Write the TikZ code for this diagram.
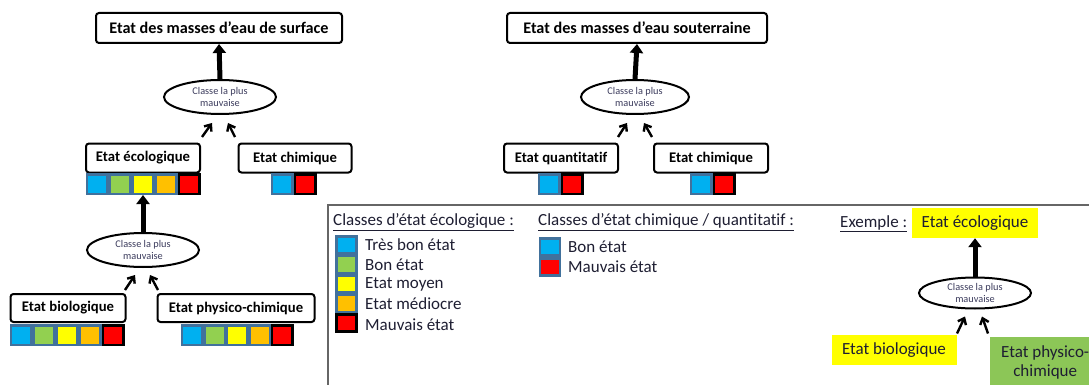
\documentclass[tikz,border=0pt]{standalone}
\usepackage{fontspec}
\setmainfont{Carlito}[Ligatures=NoCommon]
\usetikzlibrary{arrows.meta,shapes.geometric}
\definecolor{cb}{HTML}{00B0F0}\definecolor{cg}{HTML}{92D050}\definecolor{cy}{HTML}{FFFF00}
\definecolor{co}{HTML}{FFC000}\definecolor{cr}{HTML}{FF0000}\definecolor{sb}{HTML}{41719C}
\definecolor{elc}{HTML}{3B3B5C}\definecolor{txc}{HTML}{1E1E32}\definecolor{exg}{HTML}{8CC657}
\tikzset{box/.style={draw,line width=2pt,rounded corners=3pt,fill=white,inner sep=0pt,font=\bfseries\fontsize{14.7}{17}\selectfont},
 top/.style={box,font=\bfseries\fontsize{16.2}{18}\selectfont},
 ell/.style={ellipse,draw,line width=2pt,minimum width=112pt,minimum height=34pt,inner sep=0pt,align=center,text=elc,font=\fontsize{10.3}{12}\selectfont},
 sq/.style={draw=sb,line width=2.5pt,minimum width=20.5pt,minimum height=19.5pt,inner sep=0pt},
 big/.style={-{Triangle[width=13pt,length=9pt]},line width=5pt},
 sml/.style={-{Straight Barb[width=9pt,length=5.5pt]},line width=2.4pt},
 leg/.style={anchor=west,inner sep=0pt,text=txc,font=\fontsize{17}{19}\selectfont},
 ex/.style={inner sep=0pt,align=center,text=txc,font=\fontsize{17}{19}\selectfont}}
\begin{document}
\begin{tikzpicture}[x=1pt,y=-1pt]
\useasboundingbox (0,0) rectangle (1089,385);
\node[top,minimum width=246pt,minimum height=30pt](ts) at (219,28){Etat des masses d’eau de surface};
\node[ell](e1) at (220,97){Classe la plus\\mauvaise};
\node[box,minimum width=114pt,minimum height=29pt](eco) at (143,158){Etat écologique};
\node[box,minimum width=113pt,minimum height=29pt](chs) at (295,158){Etat chimique};
\foreach \c/\x/\n in {cb/97/1,cg/120/2,cy/143/3,co/166/4}\node[sq,fill=\c](ec\n) at (\x,184){};
\node[sq,fill=cr,draw=black](ec5) at (189,184){};
\node[sq,fill=cb](cs1) at (282,184){};\node[sq,fill=cr,draw=black](cs2) at (305,184){};
\draw[big](e1.north)--(ts.south);
\draw[sml]([shift={(-18,22)}]e1.south)--([shift={(-8,8)}]e1.south);
\draw[sml]([shift={(15,22)}]e1.south)--([shift={(8,8)}]e1.south);
\node[ell](e2) at (143,250){Classe la plus\\mauvaise};
\node[box,minimum width=115pt,minimum height=28pt](bio) at (68,308){Etat biologique};
\node[box,minimum width=157pt,minimum height=28pt](phy) at (236,308){Etat physico-chimique};
\foreach \c/\x/\n in {cb/21/1,cg/44/2,cy/67/3,co/90/4}\node[sq,fill=\c](bi\n) at (\x,335){};
\node[sq,fill=cr,draw=black](bi5) at (113,335){};
\foreach \c/\x/\n in {cb/192/1,cg/214.5/2,cy/237/3,co/259.5/4}\node[sq,fill=\c](ph\n) at (\x,335){};
\node[sq,fill=cr,draw=black](ph5) at (282,335){};
\draw[big](e2.north)--(ec3.south);
\draw[sml]([shift={(-18,22)}]e2.south)--([shift={(-8,7)}]e2.south);
\draw[sml]([shift={(15,22)}]e2.south)--([shift={(7,7)}]e2.south);
\node[top,minimum width=260pt,minimum height=30pt](tg) at (637,28){Etat des masses d’eau souterraine};
\node[ell,minimum width=108pt](e3) at (635,97){Classe la plus\\mauvaise};
\node[box,minimum width=114pt,minimum height=29pt](qua) at (561,158){Etat quantitatif};
\node[box,minimum width=114pt,minimum height=29pt](chg) at (711,158){Etat chimique};
\node[sq,fill=cb](qu1) at (549,184){};\node[sq,fill=cr,draw=black](qu2) at (572,184){};
\node[sq,fill=cb](cg1) at (701,184){};\node[sq,fill=cr,draw=black](cg2) at (724,184){};
\draw[big](e3.north)--(tg.south);
\draw[sml]([shift={(-17,22)}]e3.south)--([shift={(-8,8)}]e3.south);
\draw[sml]([shift={(17,22)}]e3.south)--([shift={(9,8)}]e3.south);
\draw[draw=gray!80!black,line width=2pt](328,388)|-(1092,205);
\node[leg](lh1) at (333,222){\underline{Classes d’état écologique :}};
\node[leg](lh2) at (538,222){\underline{Classes d’état chimique / quantitatif :}};
\foreach \c/\y/\t [count=\n] in {cb/245/Très bon état,cg/264.5/Bon état,cy/284/Etat moyen,co/303.5/Etat médiocre}{
 \node[sq,fill=\c,minimum width=20pt,minimum height=17pt](le\n) at (346.5,\y){};
 \node[leg](lt\n) at (365,\y){\t};}
\node[sq,fill=cr,draw=black,minimum width=20pt,minimum height=17pt](le5) at (346.5,323){};
\node[leg](lt5) at (365,325){Mauvais état};
\node[sq,fill=cb,minimum width=20pt,minimum height=17pt](lc1) at (550,247){};
\node[sq,fill=cr,minimum width=20pt,minimum height=17pt](lc2) at (550,267){};
\node[leg](lu1) at (568,247){Bon état};\node[leg](lu2) at (568,267){Mauvais état};
\node[leg](xh) at (840,224){\underline{Exemple :}};
\node[ex,fill=cy,minimum width=126pt,minimum height=30pt](xe) at (975,223){Etat écologique};
\node[ell,minimum height=31pt](e4) at (975,293){Classe la plus\\mauvaise};
\node[ex,fill=cy,minimum width=125pt,minimum height=30pt](xb) at (894,350){Etat biologique};
\node[ex,fill=exg,minimum width=110pt,minimum height=50pt,anchor=north west](xp) at (990,337){Etat physico-\\chimique};
\draw[big](e4.north)--(xe.south);
\draw[sml]([shift={(-18,24)}]e4.south)--([shift={(-10,7)}]e4.south);
\draw[sml]([shift={(13,24)}]e4.south)--([shift={(7,7)}]e4.south);
\end{tikzpicture}
\end{document}
